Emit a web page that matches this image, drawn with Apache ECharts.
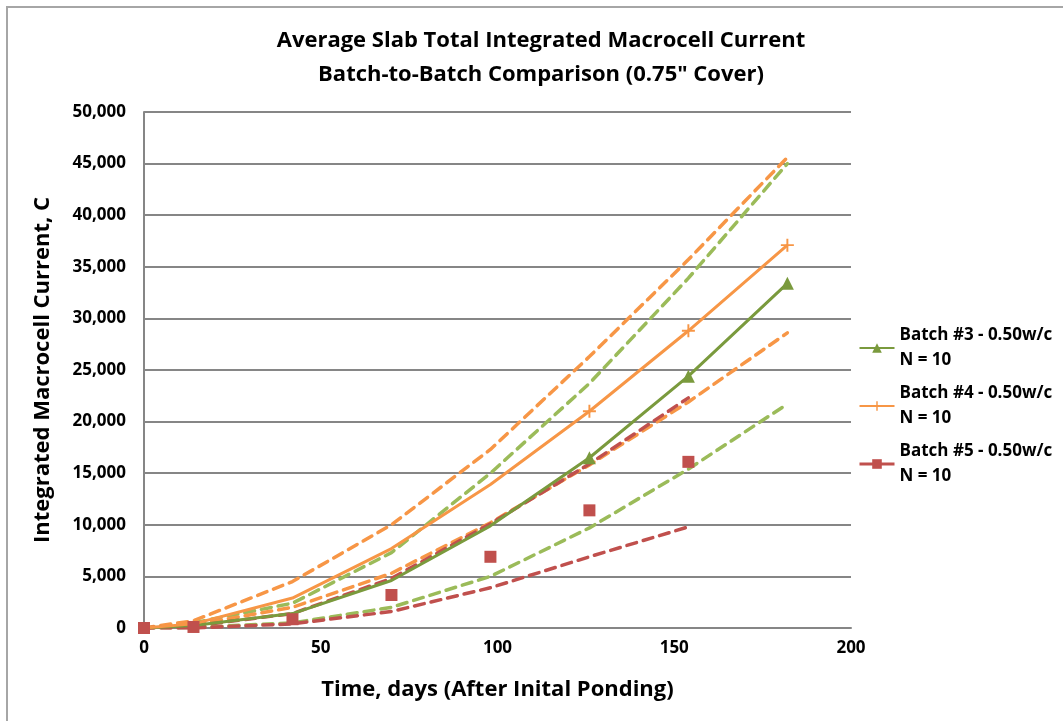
<!DOCTYPE html>
<html>
<head>
<meta charset="utf-8">
<script src="https://cdn.jsdelivr.net/npm/echarts@6/dist/echarts.min.js"></script>
<style>
html,body{margin:0;padding:0;background:#fff;}
#chart{width:1063px;height:721px;}
</style>
</head>
<body>
<div id="chart"></div>
<script>
const days = [0, 14, 42, 70, 98, 126, 154, 182];
const batch3 = [0, 250, 1400, 4600, 9900, 16500, 24400, 33400];
const batch4 = [0, 400, 2900, 7700, 13900, 21000, 28800, 37100];
const batch5 = [0, 100, 850, 3200, 6900, 11400, 16100];
const b3Upper = [0, 500, 2400, 7300, 15000, 23700, 33900, 45000];
const b3Lower = [0, 50, 500, 2000, 5000, 9700, 15400, 21700];
const b4Upper = [0, 700, 4500, 10000, 17300, 26300, 35700, 45600];
const b4Lower = [0, 300, 2000, 5300, 10200, 15800, 21900, 28600];
const b5Upper = [0, 200, 1400, 4800, 10100, 15900, 22300];
const b5Lower = [0, 0, 400, 1600, 3900, 6900, 9800];
const seriesNames = ['Batch #3 - 0.50w/c', 'Batch #4 - 0.50w/c', 'Batch #5 - 0.50w/c'];
const legendSub = 'N = 10';
const titleLines = ['Average Slab Total Integrated Macrocell Current', 'Batch-to-Batch Comparison (0.75" Cover)'];
const xTitle = 'Time, days (After Inital Ponding)';
const yTitle = 'Integrated Macrocell Current, C';

const FONT = '"Open Sans", Lato, sans-serif';
const GREEN = '#7A9A3D', GREEN_L = '#9BBB59', ORANGE = '#F79646', RED = '#C0504D';

function pairs(vals, markerFrom) {
  return vals.map((v, i) => {
    const d = { value: [days[i], v] };
    if (markerFrom !== undefined && i < markerFrom) d.symbol = 'none';
    return d;
  });
}
function dashed(name, vals, color) {
  return {
    name: name, type: 'line', data: pairs(vals), showSymbol: false, symbol: 'none',
    lineStyle: { color: color, width: 3.5, type: [10, 7], cap: 'round' },
    itemStyle: { color: color }, z: 2, silent: true
  };
}
const plus = 'path://M-0.9,-6 L0.9,-6 L0.9,-0.9 L6,-0.9 L6,0.9 L0.9,0.9 L0.9,6 L-0.9,6 L-0.9,0.9 L-6,0.9 L-6,-0.9 L-0.9,-0.9 Z';

const chart = echarts.init(document.getElementById('chart'), null, { renderer: 'canvas' });
chart.setOption({
  animation: false,
  backgroundColor: '#fff',
  textStyle: { fontFamily: FONT },
  graphic: [{
    type: 'rect', shape: { x: 7, y: 7, width: 1080, height: 740 },
    style: { fill: 'none', stroke: '#a6a6a6', lineWidth: 2 }, silent: true, z: -10
  }],
  title: {
    text: titleLines.join('\n'), left: 541, top: 24, textAlign: 'center', padding: 0,
    textStyle: { fontFamily: FONT, fontSize: 22, fontWeight: 'bold', color: '#000', lineHeight: 34 }
  },
  grid: { left: 144, right: 212, top: 112, bottom: 93, containLabel: false },
  legend: {
    orient: 'vertical', left: 858, top: 323, padding: 0, itemWidth: 35, itemHeight: 12, itemGap: 8,
    textStyle: { fontFamily: FONT, fontSize: 17, fontWeight: 'bold', color: '#000', lineHeight: 25 },
    formatter: n => n + '\n' + legendSub,
    data: [
      { name: seriesNames[0] },
      { name: seriesNames[1] },
      { name: seriesNames[2], lineStyle: { color: RED, width: 3, opacity: 1 } }
    ]
  },
  xAxis: {
    type: 'value', min: 0, max: 200, interval: 50,
    name: xTitle, nameLocation: 'middle', nameGap: 51,
    nameTextStyle: { fontFamily: FONT, fontSize: 22, fontWeight: 'bold', color: '#000' },
    axisLine: { show: true, lineStyle: { color: '#868686', width: 2 } },
    axisTick: { show: false },
    axisLabel: { fontFamily: FONT, fontSize: 17, fontWeight: 'bold', color: '#000', margin: 12 },
    splitLine: { show: false }
  },
  yAxis: {
    type: 'value', min: 0, max: 50000, interval: 5000,
    name: yTitle, nameLocation: 'middle', nameGap: 90,
    nameTextStyle: { fontFamily: FONT, fontSize: 22, fontWeight: 'bold', color: '#000' },
    axisLine: { show: true, lineStyle: { color: '#868686', width: 2 } },
    axisTick: { show: false },
    axisLabel: { fontFamily: FONT, fontSize: 17, fontWeight: 'bold', color: '#000', margin: 18,
      formatter: v => v.toLocaleString('en-US') },
    splitLine: { show: true, lineStyle: { color: '#868686', width: 2 } }
  },
  series: [
    dashed('b3u', b3Upper, GREEN_L),
    dashed('b3l', b3Lower, GREEN_L),
    dashed('b4u', b4Upper, ORANGE),
    dashed('b4l', b4Lower, ORANGE),
    {
      name: seriesNames[0], type: 'line', data: pairs(batch3, 5),
      symbol: 'triangle', symbolSize: 13,
      lineStyle: { color: GREEN, width: 3 }, itemStyle: { color: GREEN }, z: 4
    },
    {
      name: seriesNames[1], type: 'line', data: pairs(batch4, 5),
      symbol: plus, symbolSize: 13,
      lineStyle: { color: ORANGE, width: 3 }, itemStyle: { color: ORANGE }, z: 4
    },
    dashed('b5u', b5Upper, RED),
    dashed('b5l', b5Lower, RED),
    {
      name: seriesNames[2], type: 'line', data: pairs(batch5),
      symbol: 'rect', symbolSize: 12,
      lineStyle: { color: RED, width: 3, opacity: 0 }, itemStyle: { color: RED }, z: 5
    }
  ]
});
</script>
</body>
</html>
